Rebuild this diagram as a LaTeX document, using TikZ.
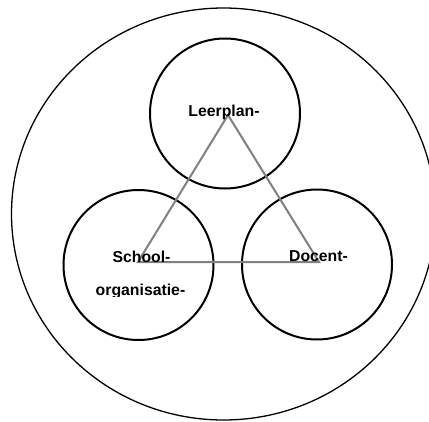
\documentclass[tikz,border=0pt]{standalone}
\usepackage{fontspec}
\setmainfont{Liberation Sans}
\begin{document}
\begin{tikzpicture}[x=1pt,y=-1pt,
  ring/.style={draw=black,line width=2pt,circle,minimum size=150pt,inner sep=0pt},
  outer/.style={draw=black,line width=1.3pt},
  tri/.style={draw=black!50,line width=2pt},
  lbl/.style={font=\fontsize{15.8pt}{18pt}\selectfont\bfseries,anchor=base,inner sep=0pt}]
\useasboundingbox (0,0) rectangle (429,421);
\fill[white] (0,0) rectangle (429,421);
\draw[outer] (223.5,214) ellipse [x radius=212, y radius=206];
\node[ring] (top) at (225,113.5) {};
\node[ring] (left) at (138.5,265) {};
\node[ring] (right) at (317,264.5) {};
\coordinate (a) at (228,115);
\coordinate (b) at (138,262);
\coordinate (c) at (319,262);
\draw[tri] (b) -- (a) -- (c) -- cycle;
\node[lbl] (tl) at (224,116) {Leerplan-};
\node[lbl] (ll) at (141.5,262) {School-};
\begin{scope}
\clip (0,0) rectangle (429,296);
\node[lbl] (ll2) at (140.5,295) {organisatie-};
\end{scope}
\node[lbl] (rl) at (318.5,261.5) {Docent-};
\end{tikzpicture}
\end{document}
